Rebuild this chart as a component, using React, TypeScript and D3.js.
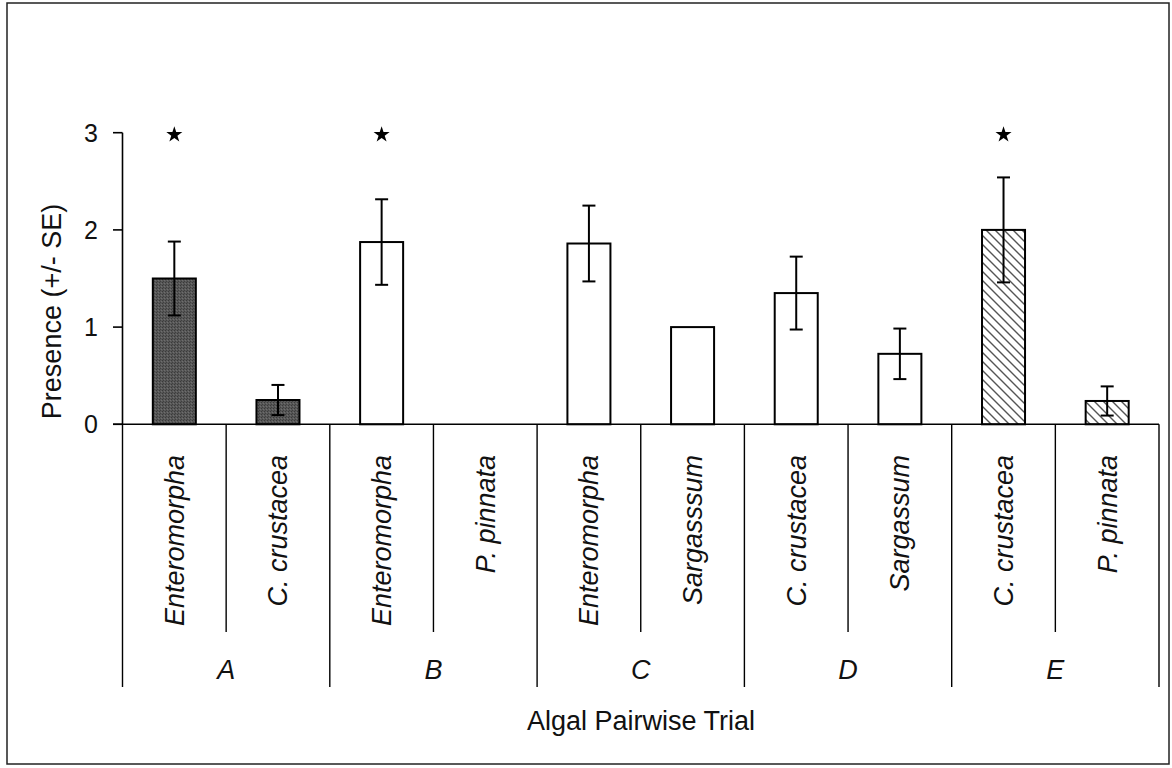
import React from "react";
import * as d3 from "d3";

// Paired algal choice trials: mean presence (± SE) for each alga in each trial
const species = [
  "Enteromorpha",
  "C. crustacea",
  "Enteromorpha",
  "P. pinnata",
  "Enteromorpha",
  "Sargasssum",
  "C. crustacea",
  "Sargassum",
  "C. crustacea",
  "P. pinnata",
];
const trialOf = ["A", "A", "B", "B", "C", "C", "D", "D", "E", "E"];
const trials = ["A", "B", "C", "D", "E"];
const presence = [1.5, 0.25, 1.875, 0, 1.86, 1.0, 1.35, 0.725, 2.0, 0.24];
const stdErr = [0.38, 0.155, 0.44, 0, 0.39, 0, 0.375, 0.26, 0.54, 0.15];
const significant = [true, false, true, false, false, false, false, false, true, false];
const yTicks = [0, 1, 2, 3];

const W = 1172;
const H = 768;
const FONT = "'Liberation Sans', Arial, Helvetica, sans-serif";

export default function App() {
  const ids = species.map((_, i) => String(i));
  const x = d3.scaleBand<string>().domain(ids).range([122.5, 1159]).padding(0);
  const y = d3.scaleLinear().domain([0, 3]).range([424.3, 132.7]);
  const bw = x.bandwidth() * 0.415;
  const cx = (i: number) => (x(String(i)) as number) + x.bandwidth() / 2;

  const fillFor = (t: string) =>
    t === "A" ? "url(#stipple)" : t === "E" ? "url(#hatch)" : "#ffffff";

  const star = d3.symbol().type(d3.symbolStar).size(80)() as string;

  const axisY = y(0);
  const innerBottom = 632;
  const outerBottom = 687;

  // trial group boundaries (every second category)
  const groupEdges = d3.range(0, species.length + 1, 2).map((k) =>
    k === species.length ? x.range()[1] : (x(String(k)) as number)
  );

  return (
    <svg
      width={W}
      height={H}
      style={{ position: "absolute", left: 0, top: 0, background: "#fff" }}
      fontFamily={FONT}
    >
      <defs>
        <pattern id="stipple" patternUnits="userSpaceOnUse" width="3" height="3">
          <rect width="3" height="3" fill="#575757" />
          <rect x="0" y="0" width="1" height="1" fill="#3a3a3a" />
          <rect x="2" y="1" width="1" height="1" fill="#6e6e6e" />
          <rect x="1" y="2" width="1" height="1" fill="#404040" />
        </pattern>
        <pattern id="hatch" patternUnits="userSpaceOnUse" width="9" height="9">
          <rect width="9" height="9" fill="#fff" />
          <path
            d="M-2,-2 L11,11 M-2,7 L2,11 M7,-2 L11,2"
            stroke="#555"
            strokeWidth={1.4}
          />
        </pattern>
      </defs>

      {/* outer frame */}
      <rect x={7} y={3} width={1162} height={761} fill="none" stroke="#222" strokeWidth={1.5} />

      {/* bars */}
      {presence.map((v, i) =>
        v > 0 ? (
          <rect
            key={"bar" + i}
            x={cx(i) - bw / 2}
            y={y(v)}
            width={bw}
            height={axisY - y(v)}
            fill={fillFor(trialOf[i])}
            stroke="#000"
            strokeWidth={2}
          />
        ) : null
      )}

      {/* error bars */}
      {presence.map((v, i) =>
        stdErr[i] > 0 ? (
          <g key={"err" + i} stroke="#000" strokeWidth={2}>
            <line x1={cx(i)} x2={cx(i)} y1={y(v + stdErr[i])} y2={y(v - stdErr[i])} />
            <line x1={cx(i) - 6.5} x2={cx(i) + 6.5} y1={y(v + stdErr[i])} y2={y(v + stdErr[i])} />
            <line x1={cx(i) - 6.5} x2={cx(i) + 6.5} y1={y(v - stdErr[i])} y2={y(v - stdErr[i])} />
          </g>
        ) : null
      )}

      {/* significance markers */}
      {significant.map((s, i) =>
        s ? <path key={"star" + i} d={star} transform={`translate(${cx(i)},${y(3) + 2})`} fill="#000" /> : null
      )}

      {/* y axis */}
      <line x1={122.5} x2={122.5} y1={y(3)} y2={axisY} stroke="#000" strokeWidth={1.6} />
      {yTicks.map((t) => (
        <g key={"yt" + t}>
          <line x1={113} x2={122.5} y1={y(t)} y2={y(t)} stroke="#000" strokeWidth={1.6} />
          <text x={98} y={y(t)} dy="0.36em" textAnchor="end" fontSize={25} fill="#111">
            {t}
          </text>
        </g>
      ))}
      <text
        transform={`translate(61,311.5) rotate(-90)`}
        textAnchor="middle"
        fontSize={27}
        fill="#111"
      >
        Presence (+/- SE)
      </text>

      {/* x axis baseline */}
      <line x1={113} x2={x.range()[1]} y1={axisY} y2={axisY} stroke="#000" strokeWidth={1.6} />

      {/* inner dividers between species of the same trial */}
      {species.map((_, i) =>
        i % 2 === 1 ? (
          <line
            key={"in" + i}
            x1={x(String(i)) as number}
            x2={x(String(i)) as number}
            y1={axisY}
            y2={innerBottom}
            stroke="#000"
            strokeWidth={1.4}
          />
        ) : null
      )}
      {/* trial dividers */}
      {groupEdges.map((gx, k) => (
        <line key={"out" + k} x1={gx} x2={gx} y1={axisY} y2={outerBottom} stroke="#000" strokeWidth={1.4} />
      ))}

      {/* species labels */}
      {species.map((s, i) => (
        <text
          key={"sp" + i}
          transform={`translate(${cx(i) + 9.5},455) rotate(-90)`}
          textAnchor="end"
          fontSize={27}
          fontStyle="italic"
          fill="#111"
        >
          {s}
        </text>
      ))}

      {/* trial labels */}
      {trials.map((t, k) => (
        <text
          key={"tr" + t}
          x={(groupEdges[k] + groupEdges[k + 1]) / 2}
          y={679}
          textAnchor="middle"
          fontSize={27}
          fontStyle="italic"
          fill="#111"
        >
          {t}
        </text>
      ))}

      <text x={641} y={730} textAnchor="middle" fontSize={27} fill="#111">
        Algal Pairwise Trial
      </text>
    </svg>
  );
}
